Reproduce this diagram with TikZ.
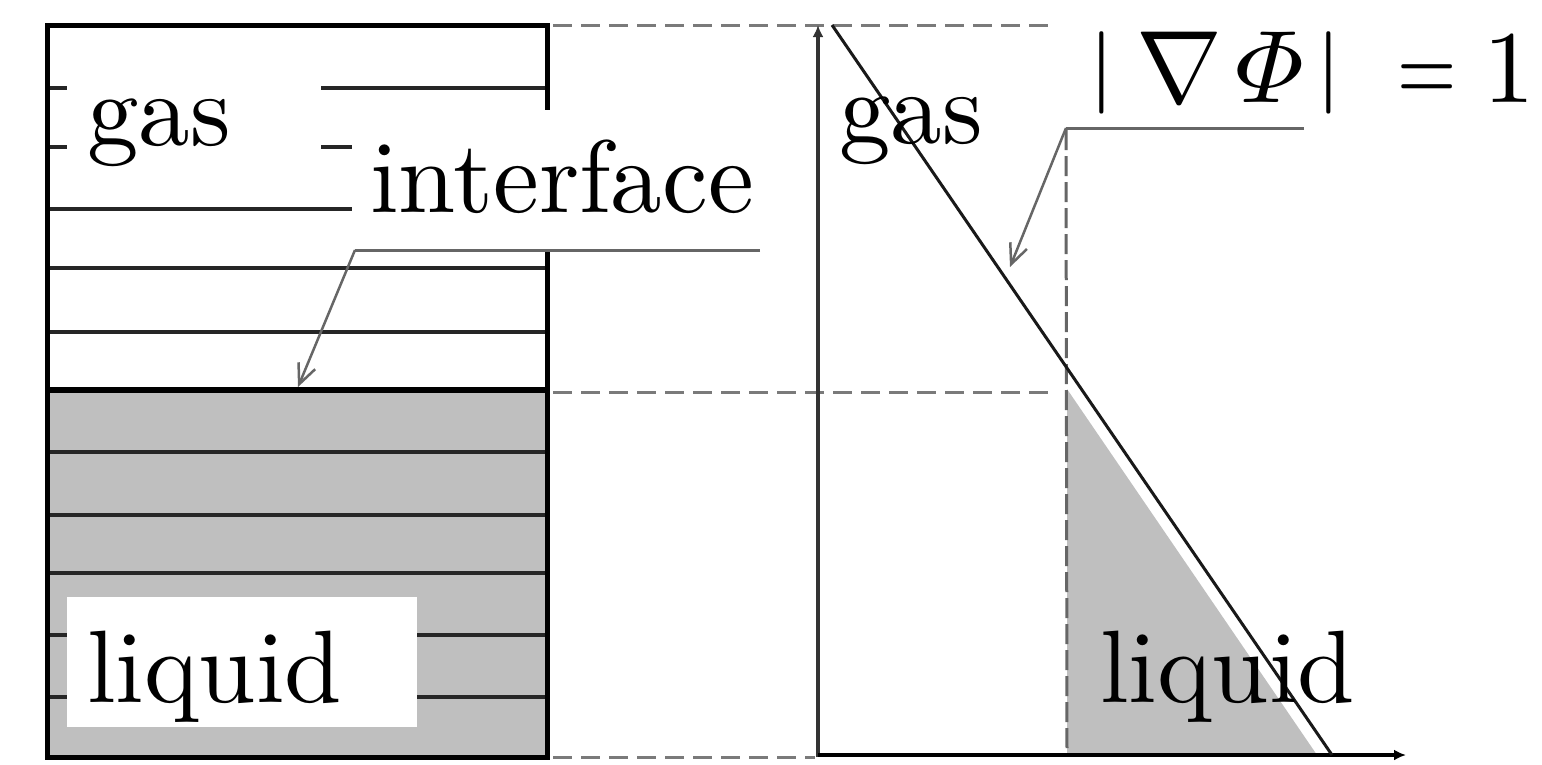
\documentclass[tikz,border=0pt]{standalone}
\usepackage{amsmath}
\usepackage{fontspec}
\usepackage{graphicx}
\usetikzlibrary{arrows.meta}
\definecolor{liquidgray}{HTML}{BFBFBF}
\definecolor{leadergray}{HTML}{666666}
\definecolor{dashgray}{HTML}{7A7A7A}
% labels are set at 10pt and enlarged, which keeps the heavy 10pt strokes
\newcommand{\biglabel}[1]{\scalebox{10.3}{\fontsize{10}{12}\selectfont #1}}
% a shortened bar for the norm
\newcommand{\shortbar}{\raisebox{0.8pt}{\scalebox{1}[0.8]{$|$}}}
\begin{document}
\begin{tikzpicture}[x=1pt,y=-1pt,
  border/.style={line width=5pt,black},
  gridline/.style={line width=3.5pt,black!85},
  interfaceline/.style={line width=6pt,black},
  guide/.style={line width=3pt,dashgray,dash pattern=on 19pt off 9pt},
  vguide/.style={line width=3pt,black!60,dash pattern=on 20pt off 6pt},
  leader/.style={line width=2.5pt,leadergray},
  underline/.style={line width=3pt,leadergray},
  pointer/.style={leader,-{Straight Barb[length=20pt,width=18pt,line width=2.5pt]}},
  axis/.style={line width=4pt,-{Latex[length=12pt,width=11pt]}},
  lbl/.style={inner sep=0pt,anchor=base west},
  maskbox/.style={fill=white}
]
\useasboundingbox (0,0) rectangle (1542,764);

% ---------- left: layered column ----------
\fill[liquidgray] (47,390) rectangle (547,757);
\foreach \yy in {88,147,209,268,332,452,515,573,635,697}
  \draw[gridline] (47,\yy) -- (547,\yy);
\draw[interfaceline] (47,390) -- (547,390);
\draw[border] (47,25) rectangle (547,757);

% label backgrounds
\fill[maskbox] (67,40) rectangle (321,170);
\fill[maskbox] (352,110) rectangle (775,249);
\fill[maskbox] (67,597) rectangle (417,727);

\node[lbl] (gasL) at (87,145) {\biglabel{gas}};
\node[lbl] (iface) at (370,212) {\biglabel{interface}};
\node[lbl] (liqL) at (87,702) {\biglabel{liquid}};

% interface leader
\coordinate (ifaceEnd) at (760,250);
\coordinate (ifaceBend) at (355,250);
\coordinate (ifaceTip) at (298,387);
\draw[underline] (ifaceEnd) -- (ifaceBend);
\draw[pointer] (ifaceBend) -- (ifaceTip);

% ---------- guides between the panels ----------
\coordinate (gTopA) at (553,25);   \coordinate (gTopB) at (1050,25);
\coordinate (gMidA) at (553,392);  \coordinate (gMidB) at (1050,392);
\coordinate (gBotA) at (553,757);  \coordinate (gBotB) at (815,757);
\draw[guide] (gTopA) -- (gTopB);
\draw[guide] (gMidA) -- (gMidB);
\draw[guide] (gBotA) -- (gBotB);

% ---------- right: distance function ----------
\coordinate (O) at (818,755);
\coordinate (yEnd) at (818,25);
\coordinate (xEnd) at (1406,755);
\coordinate (lineTop) at (832,25);
\coordinate (lineBot) at (1332,755);
\coordinate (triTop) at (1067,389);
\coordinate (triCorner) at (1067,755);
\coordinate (triRight) at (1317,755);

\fill[liquidgray] (triTop) -- (triCorner) -- (triRight) -- cycle;
\draw[vguide] (1066,130) -- (triCorner);
\draw[axis,black!80] (818,757) -- (yEnd);
\draw[axis,black] (O) -- (xEnd);
\draw[line width=3pt,black!90] (lineTop) -- (lineBot);

\node[lbl] (gasR) at (839,143) {\biglabel{gas}};
\node[lbl] (liqR) at (1100,702) {\biglabel{liquid}};
\node[lbl] (grad) at (1087,102) {\biglabel{${\shortbar}\kern2pt{\nabla}\kern1.3pt{\varPhi}\kern1pt{\shortbar}\kern5.3pt\scalebox{0.74}[1]{$=$}\kern2.6pt 1$}};

% slope leader
\coordinate (gradEnd) at (1304,128);
\coordinate (gradBend) at (1066,128);
\coordinate (gradTip) at (1010,267);
\draw[underline] (gradEnd) -- (gradBend);
\draw[pointer] (gradBend) -- (gradTip);
\end{tikzpicture}
\end{document}
